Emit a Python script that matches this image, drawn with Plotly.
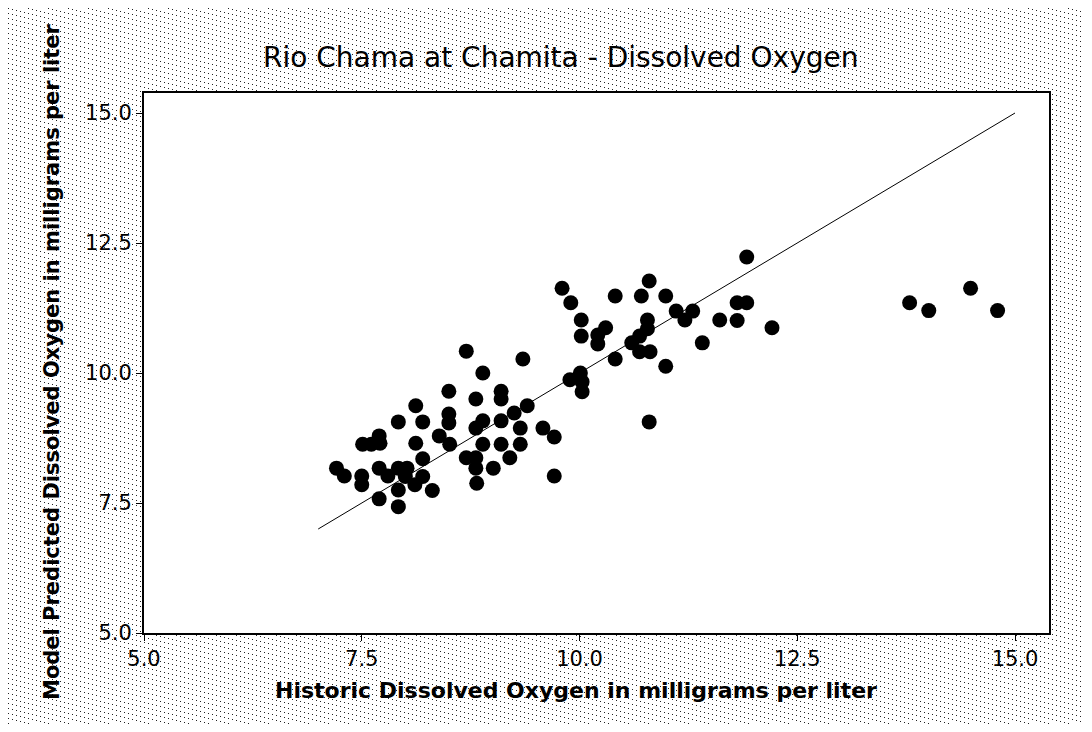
import base64
import plotly.graph_objects as go

# ---- data ----
historic_do = [7.21, 7.30, 7.50, 7.50, 7.51, 7.61, 7.71, 7.70, 7.70, 7.80,
               7.92, 8.02, 8.00, 8.11, 8.20, 8.20, 7.92, 8.31, 7.70, 7.92,
               8.12, 7.92, 8.20, 8.12, 8.50, 8.50, 8.39, 8.51, 8.70, 9.35,
               8.89, 8.50, 8.81, 9.10, 9.10, 8.89, 8.81, 9.10, 9.25, 9.40,
               9.32, 9.58, 9.71, 8.89, 9.10, 9.32, 8.70, 8.81, 8.81, 9.01,
               9.20, 9.71, 8.82, 9.89, 10.01, 10.03, 10.03, 9.80, 9.90, 10.02,
               10.02, 10.30, 10.21, 10.21, 10.41, 10.71, 10.80, 10.99, 10.78, 10.78,
               10.69, 10.60, 10.69, 10.81, 11.11, 11.21, 11.30, 11.61, 11.41, 10.41,
               10.99, 11.81, 11.92, 11.81, 11.92, 12.21, 13.79, 14.01, 14.49, 14.80,
               10.80]
predicted_do = [8.17, 8.02, 8.02, 7.85, 8.63, 8.63, 8.65, 8.79, 8.17, 8.02,
                8.17, 8.17, 8.01, 7.85, 8.01, 8.35, 7.75, 7.74, 7.58, 7.43,
                9.37, 9.06, 9.06, 8.65, 9.21, 9.04, 8.79, 8.63, 10.42, 10.27,
                10.00, 9.65, 9.50, 9.65, 9.50, 9.08, 8.94, 9.08, 9.23, 9.37,
                8.94, 8.94, 8.77, 8.63, 8.63, 8.63, 8.37, 8.37, 8.17, 8.17,
                8.37, 8.02, 7.88, 9.87, 10.00, 9.83, 9.64, 11.63, 11.35, 11.02,
                10.71, 10.87, 10.73, 10.56, 11.48, 11.48, 11.77, 11.48, 11.02, 10.85,
                10.71, 10.58, 10.41, 10.41, 11.19, 11.02, 11.19, 11.02, 10.58, 10.27,
                10.13, 11.35, 11.35, 11.01, 12.23, 10.87, 11.35, 11.20, 11.63, 11.20,
                9.06]
ref_line_x = [7.0, 15.0]
ref_line_y = [7.0, 15.0]
tick_vals = [5.0, 7.5, 10.0, 12.5, 15.0]
tick_text = ["5.0", "7.5", "10.0", "12.5", "15.0"]

title_text = "Rio Chama at Chamita - Dissolved Oxygen"
x_title = "Historic Dissolved Oxygen in milligrams per liter"
y_title = "Model Predicted Dissolved Oxygen in milligrams per liter"

# ---- geometry (page body adds an 8px offset, so the figure is shrunk to fit) ----
OFF = 8
W, H = 1076, 716
ML, MR, MT, MB = 136, 35, 85, 91
PW, PH = W - ML - MR, H - MT - MB


def px(xp):  # screen x -> paper x
    return (xp - OFF - ML) / PW


def py(yp):  # screen y -> paper y
    return (H - MB - (yp - OFF)) / PH


# dotted background pattern
dots = "".join(
    f'<rect x="{4 * i}" y="{i}" width="1" height="1" fill="#222222"/>' for i in range(5)
)
svg = (
    f'<svg xmlns="http://www.w3.org/2000/svg" width="{W}" height="{H}" shape-rendering="crispEdges">'
    f'<defs><pattern id="p" width="20" height="5" patternUnits="userSpaceOnUse">{dots}</pattern></defs>'
    f'<rect width="{W}" height="{H}" fill="#ffffff"/>'
    f'<rect width="{W}" height="{H}" fill="url(#p)"/></svg>'
)
svg_uri = "data:image/svg+xml;base64," + base64.b64encode(svg.encode()).decode()

fig = go.Figure()
fig.add_trace(go.Scatter(
    x=ref_line_x, y=ref_line_y, mode="lines",
    line=dict(color="black", width=1), hoverinfo="skip", showlegend=False,
))
fig.add_trace(go.Scatter(
    x=historic_do, y=predicted_do, mode="markers",
    marker=dict(color="black", size=15, line=dict(width=0)),
    showlegend=False,
))

tick_font = dict(family="DejaVu Sans", size=21, color="black")
axis_common = dict(
    tickvals=tick_vals, ticktext=tick_text,
    showgrid=False, zeroline=False,
    showline=True, linecolor="black", linewidth=2, mirror=True,
    ticks="outside", ticklen=6, tickwidth=1, tickcolor="black",
    tickfont=tick_font,
)
fig.update_xaxes(range=[5.0, 5.0 + PW / 87.1], ticklabelstandoff=0, **axis_common)
fig.update_yaxes(range=[5.0, 5.0 + PH / 52.0], ticklabelstandoff=0, **axis_common)

fig.update_layout(
    width=W, height=H,
    margin=dict(l=ML, r=MR, t=MT, b=MB, pad=0),
    paper_bgcolor="white", plot_bgcolor="white",
    images=[dict(
        source=svg_uri, xref="paper", yref="paper",
        x=-ML / PW, y=(PH + MT) / PH, sizex=W / PW, sizey=H / PH,
        xanchor="left", yanchor="top", sizing="stretch", layer="below",
    )],
    shapes=[
        dict(type="rect", xref="paper", yref="paper", x0=0, x1=1, y0=0, y1=1,
             fillcolor="white", line=dict(width=0), layer="below"),
    ],
    annotations=[
        dict(text=title_text, xref="paper", yref="paper", x=px(560), y=py(57),
             xanchor="center", yanchor="middle", showarrow=False,
             font=dict(family="DejaVu Sans", size=28, color="black")),
        dict(text=x_title, xref="paper", yref="paper", x=px(576), y=py(690),
             xanchor="center", yanchor="middle", showarrow=False,
             font=dict(family="DejaVu Sans", size=22, color="black", weight="bold")),
        dict(text=y_title, xref="paper", yref="paper", x=px(52), y=py(362),
             xanchor="center", yanchor="middle", showarrow=False, textangle=-90,
             font=dict(family="DejaVu Sans", size=21, color="black", weight="bold")),
    ],
)

fig.write_html("out.html")
